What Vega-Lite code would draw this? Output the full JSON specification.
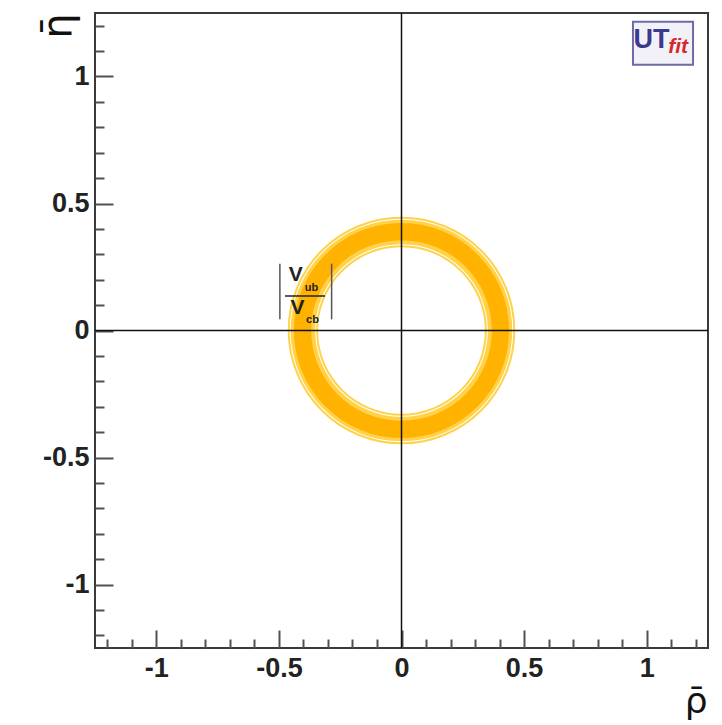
{
  "$schema": "https://vega.github.io/schema/vega-lite/v6.json",
  "width": 613,
  "height": 635,
  "autosize": {"type": "none"},
  "padding": {"left": 95, "top": 13, "right": 14, "bottom": 77},
  "background": "white",
  "config": {
    "view": {"stroke": "#3a3a3a", "strokeWidth": 2},
    "axis": {
      "grid": false,
      "domain": false,
      "labelFont": "Liberation Sans",
      "labelFontWeight": "bold",
      "labelFontSize": 27,
      "labelColor": "#222222",
      "labelFlush": false,
      "labelOverlap": false,
      "tickColor": "#505050",
      "tickWidth": 2,
      "titleFont": "DejaVu Sans",
      "titleFontWeight": "normal",
      "titleFontSize": 36,
      "titleColor": "#111111"
    }
  },
  "resolve": {"axis": {"x": "independent", "y": "independent"}},
  "layer": [
    {
      "data": {"values": [
        {"band": "light", "r": 0.334, "r2": 0.456},
        {"band": "line", "r": 0.444, "r2": 0.448},
        {"band": "line", "r": 0.342, "r2": 0.346},
        {"band": "core", "r": 0.362, "r2": 0.431}
      ]},
      "mark": {"type": "arc", "theta": 0, "theta2": 6.2832},
      "encoding": {
        "radius": {"field": "r2", "type": "quantitative", "scale": {"type": "linear", "domain": [0, 1.25], "range": [0, 312], "zero": true}},
        "radius2": {"field": "r"},
        "fill": {"field": "band", "type": "nominal", "scale": {"domain": ["light", "line", "core"], "range": ["#FFD24A", "#FFFFFF", "#FFB200"]}, "legend": null}
      }
    },
    {
      "data": {"values": [{"v": 0}]},
      "mark": {"type": "rule", "color": "#111111", "strokeWidth": 1.5},
      "encoding": {
        "x": {
          "field": "v", "type": "quantitative",
          "scale": {"domain": [-1.25, 1.25], "nice": false, "zero": false},
          "axis": {
            "orient": "bottom",
            "values": [-1, -0.5, 0, 0.5, 1],
            "labelExpr": "(datum.value < 0 ? '-' : '') + format(abs(datum.value), '~g')",
            "tickSize": -18,
            "labelPadding": 25,
            "title": "ρ̄",
            "titleX": 612,
            "titleY": 64,
            "titleAlign": "right",
            "titleBaseline": "alphabetic",
            "titleAngle": 0
          }
        }
      }
    },
    {
      "data": {"values": [{"v": 0}]},
      "mark": {"type": "rule", "color": "#111111", "strokeWidth": 1.5},
      "encoding": {
        "y": {
          "field": "v", "type": "quantitative",
          "scale": {"domain": [-1.25, 1.25], "nice": false, "zero": false},
          "axis": {
            "orient": "left",
            "values": [-1, -0.5, 0, 0.5, 1],
            "labelExpr": "(datum.value < 0 ? '-' : '') + format(abs(datum.value), '~g')",
            "tickSize": -18,
            "labelPadding": 24,
            "title": "η̄",
            "titleFontSize": 40,
            "titleX": -25,
            "titleY": 0,
            "titleAlign": "right",
            "titleBaseline": "alphabetic",
            "titleAngle": -90
          }
        }
      }
    },
    {
      "data": {"values": [
        {"x": -0.496, "y": 0.044, "y2": 0.263},
        {"x": -0.285, "y": 0.044, "y2": 0.263}
      ]},
      "mark": {"type": "rule", "color": "#555555", "strokeWidth": 1.5},
      "encoding": {
        "x": {"field": "x", "type": "quantitative", "axis": null},
        "y": {
          "field": "y", "type": "quantitative",
          "axis": {
            "orient": "left",
            "values": [-1.2, -1.1, -0.9, -0.8, -0.7, -0.6, -0.4, -0.3, -0.2, -0.1, 0.1, 0.2, 0.3, 0.4, 0.6, 0.7, 0.8, 0.9, 1.1, 1.2],
            "labels": false,
            "tickSize": -9,
            "title": null
          }
        },
        "y2": {"field": "y2"}
      }
    },
    {
      "data": {"values": [{"x": -0.475, "x2": -0.312, "y": 0.136}]},
      "mark": {"type": "rule", "color": "#222222", "strokeWidth": 1.5},
      "encoding": {
        "x": {
          "field": "x", "type": "quantitative",
          "axis": {
            "orient": "bottom",
            "values": [-1.2, -1.1, -0.9, -0.8, -0.7, -0.6, -0.4, -0.3, -0.2, -0.1, 0.1, 0.2, 0.3, 0.4, 0.6, 0.7, 0.8, 0.9, 1.1, 1.2],
            "labels": false,
            "tickSize": -9,
            "title": null
          }
        },
        "x2": {"field": "x2"},
        "y": {"field": "y", "type": "quantitative", "axis": null}
      }
    },
    {
      "data": {"values": [
        {"x": -0.431, "y": 0.195, "t": "V"},
        {"x": -0.424, "y": 0.063, "t": "V"}
      ]},
      "mark": {"type": "text", "font": "Liberation Sans", "fontWeight": "bold", "fontSize": 21, "align": "center", "baseline": "alphabetic", "color": "#222222"},
      "encoding": {
        "x": {"field": "x", "type": "quantitative", "axis": null},
        "y": {"field": "y", "type": "quantitative", "axis": null},
        "text": {"field": "t"}
      }
    },
    {
      "data": {"values": [
        {"x": -0.367, "y": 0.157, "t": "ub"},
        {"x": -0.363, "y": 0.031, "t": "cb"}
      ]},
      "mark": {"type": "text", "font": "Liberation Sans", "fontWeight": "bold", "fontSize": 11, "align": "center", "baseline": "alphabetic", "color": "#222222"},
      "encoding": {
        "x": {"field": "x", "type": "quantitative", "axis": null},
        "y": {"field": "y", "type": "quantitative", "axis": null},
        "text": {"field": "t"}
      }
    },
    {
      "data": {"values": [{"x": 0.944, "x2": 1.189, "y": 1.046, "y2": 1.216}]},
      "mark": {"type": "rect", "fill": "#F3F1F8", "stroke": "#6B6BA8", "strokeWidth": 2},
      "encoding": {
        "x": {"field": "x", "type": "quantitative", "axis": null},
        "x2": {"field": "x2"},
        "y": {"field": "y", "type": "quantitative", "axis": null},
        "y2": {"field": "y2"}
      }
    },
    {
      "data": {"values": [{"x": 1.02, "y": 1.112, "t": "UT"}]},
      "mark": {"type": "text", "font": "Liberation Sans Narrow, Liberation Sans", "fontWeight": "bold", "fontSize": 27, "align": "center", "baseline": "alphabetic", "color": "#3A3A8C"},
      "encoding": {
        "x": {"field": "x", "type": "quantitative", "axis": null},
        "y": {"field": "y", "type": "quantitative", "axis": null},
        "text": {"field": "t"}
      }
    },
    {
      "data": {"values": [{"x": 1.128, "y": 1.094, "t": "fit"}]},
      "mark": {"type": "text", "font": "Liberation Sans", "fontStyle": "italic", "fontWeight": "bold", "fontSize": 21, "align": "center", "baseline": "alphabetic", "color": "#D42A2A"},
      "encoding": {
        "x": {"field": "x", "type": "quantitative", "axis": null},
        "y": {"field": "y", "type": "quantitative", "axis": null},
        "text": {"field": "t"}
      }
    }
  ]
}
